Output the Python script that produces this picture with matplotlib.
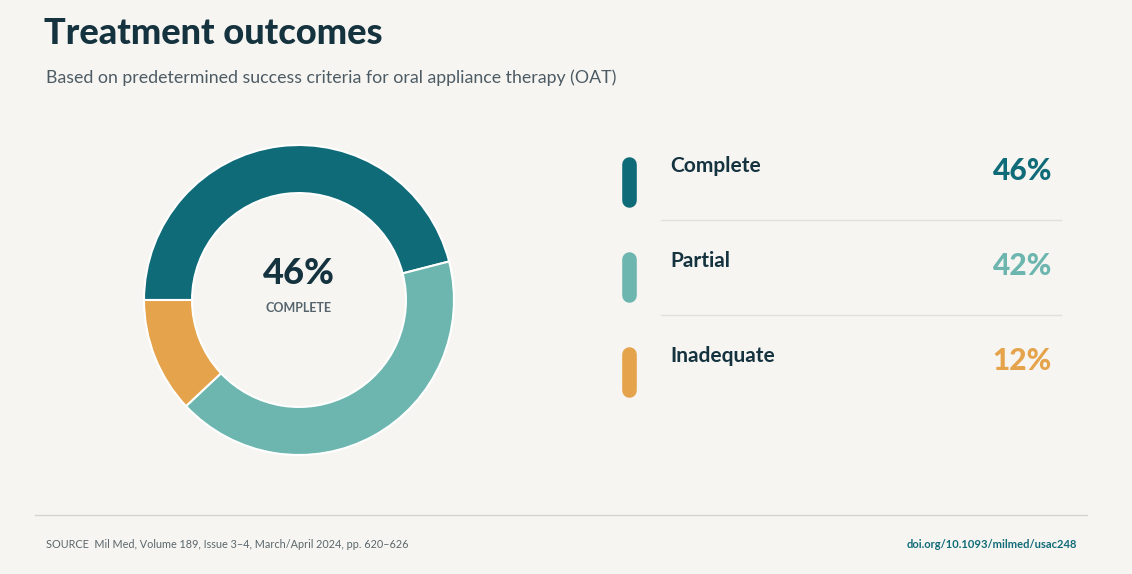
import matplotlib.pyplot as plt

categories = ['Complete', 'Partial', 'Inadequate']
shares = [46, 42, 12]
colors = ['#106b78', '#6db6af', '#e5a34b']

bg = '#f6f5f1'
dark = '#15323f'
grey = '#56656d'

plt.rcParams['font.family'] = ['Lato', 'DejaVu Sans']

W, H = 1132, 574
fig = plt.figure(figsize=(W / 100, H / 100), dpi=100, facecolor=bg)

# overlay axes in pixel coords for text and decorations
ov = fig.add_axes([0, 0, 1, 1])
ov.set_xlim(0, W)
ov.set_ylim(H, 0)
ov.axis('off')

ov.text(44, 44, 'Treatment outcomes', fontsize=26, fontweight=900, color=dark, va='baseline')
ov.text(46, 83, 'Based on predetermined success criteria for oral appliance therapy (OAT)',
        fontsize=12.8, color='#4d5b64', va='baseline')

# donut
cx, cy, r = 299, 300, 155
pax = fig.add_axes([(cx - r) / W, (H - cy - r) / H, 2 * r / W, 2 * r / H])
pax.pie(shares, colors=colors, startangle=180, counterclock=False,
        wedgeprops=dict(width=0.31, edgecolor='white', linewidth=1.5))
pax.set_xlim(-1, 1)
pax.set_ylim(-1, 1)
pax.set_aspect('equal')
pax.axis('off')

ov.text(cx, 284, f'{shares[0]}%', fontsize=26, fontweight=900, color=dark, ha='center', va='baseline')
ov.text(cx, 312, categories[0].upper(), fontsize=9, fontweight='bold', color=grey, ha='center', va='baseline')

# legend rows
row_top = [157, 252, 347]
for i, (cat, val, col) in enumerate(zip(categories, shares, colors)):
    t = row_top[i]
    ov.plot([629, 629], [t + 7, t + 43], color=col, lw=10.5, solid_capstyle='round')
    ov.text(670, t + 15, cat, fontsize=15, fontweight='bold', color=dark, va='baseline')
    ov.text(1052, t + 23, f'{val}%', fontsize=21.5, fontweight=900, color=col, ha='right', va='baseline')
    if i < len(categories) - 1:
        ov.plot([661, 1061], [t + 63, t + 63], color='#e2e0dc', lw=1)

# footer
ov.plot([35, 1087], [515, 515], color='#d6d4cf', lw=1)
ov.text(46, 548, 'SOURCE  Mil Med, Volume 189, Issue 3\u20134, March/April 2024, pp. 620\u2013626',
        fontsize=7.85, color='#5b676d', va='baseline')
ov.text(1077, 548, 'doi.org/10.1093/milmed/usac248', fontsize=8, fontweight='bold',
        color='#106b78', ha='right', va='baseline')

fig.savefig('out.png', dpi=100, facecolor=bg)
